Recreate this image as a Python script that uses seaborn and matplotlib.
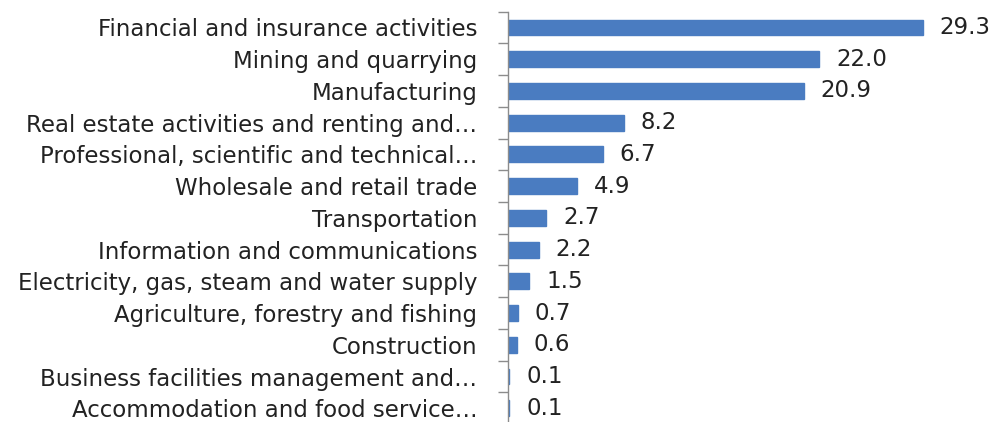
import matplotlib
matplotlib.use("Agg")
import matplotlib.pyplot as plt
import seaborn as sns
import pandas as pd

# data, top to bottom as shown
sectors = [
    "Financial and insurance activities",
    "Mining and quarrying",
    "Manufacturing",
    "Real estate activities and renting and\u2026",
    "Professional, scientific and technical\u2026",
    "Wholesale and retail trade",
    "Transportation",
    "Information and communications",
    "Electricity, gas, steam and water supply",
    "Agriculture, forestry and fishing",
    "Construction",
    "Business facilities management and\u2026",
    "Accommodation and food service\u2026",
]
shares = [29.3, 22.0, 20.9, 8.2, 6.7, 4.9, 2.7, 2.2, 1.5, 0.7, 0.6, 0.1, 0.1]

df = pd.DataFrame({"sector": sectors, "share": shares})

sns.set_style("white")
plt.rcParams['font.family'] = ['DejaVu Sans']

figure, axis = plt.subplots(1, 1, figsize=(9.95, 4.22), dpi=100)
figure.subplots_adjust(left=0.5106, right=0.96, bottom=-0.005, top=0.9725)

sns.barplot(x="share", y="sector", data=df, color="#4a7cc1", width=0.5,
            saturation=1, orient="h", edgecolor="#4a7cc1", linewidth=1, ax=axis)

# value labels at bar ends
axis.bar_label(axis.containers[0], labels=["{:.1f}".format(v) for v in shares],
               padding=12, fontsize=16.5, color="#222222")

axis.set_xlim(0, 31.6)
axis.set_ylim(12.5, -0.5)
axis.set_xlabel("")
axis.set_ylabel("")
axis.set_xticks([])

# excel-like ticks between categories
axis.set_yticks(range(len(sectors)))
axis.set_yticklabels(sectors, fontsize=16.5, color="#222222")
axis.set_yticks([i - 0.5 for i in range(len(sectors) + 1)], minor=True)
axis.tick_params(axis="y", which="major", length=0, pad=22)
axis.tick_params(axis="y", which="minor", length=7, width=1, color="#8c8c8c", left=True)

for side in ["top", "right", "bottom"]:
    axis.spines[side].set_visible(False)
axis.spines["left"].set_color("#8c8c8c")
axis.spines["left"].set_linewidth(1)

figure.savefig("out.png", dpi=100)
